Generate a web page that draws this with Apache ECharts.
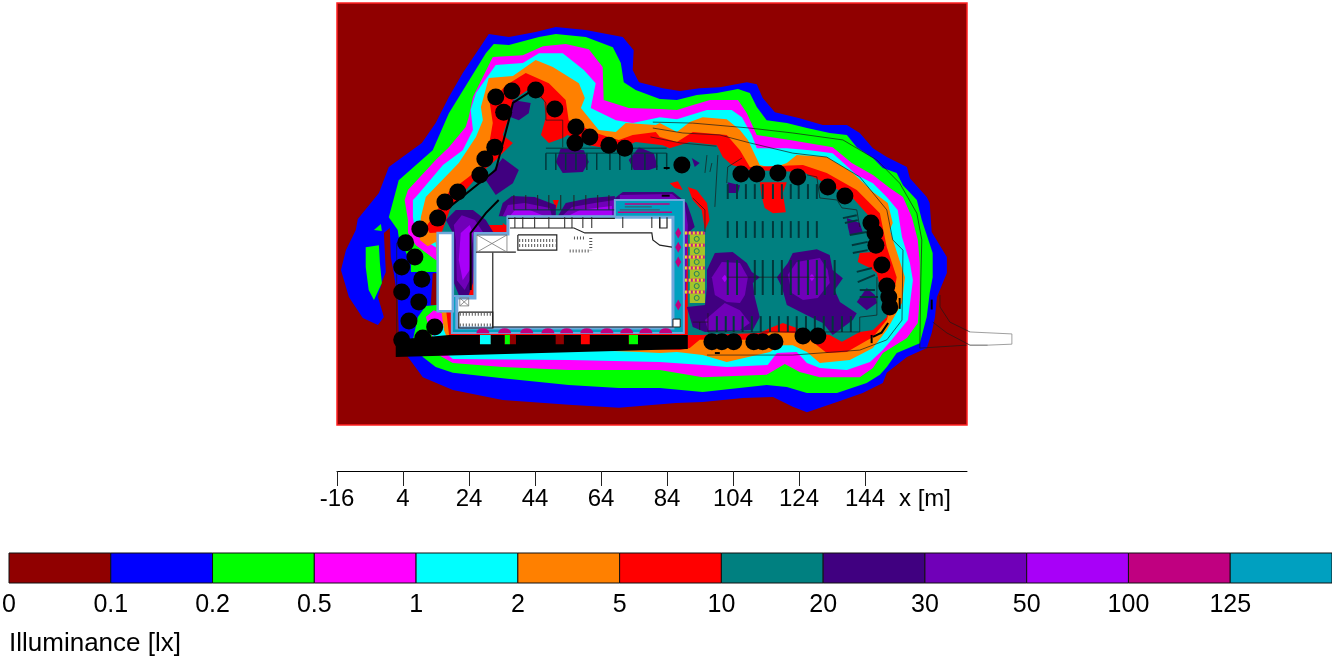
<!DOCTYPE html>
<html><head><meta charset="utf-8"><style>html,body{margin:0;padding:0;background:#fff}#c{width:1332px;height:659px}</style>
<script src="https://cdn.jsdelivr.net/npm/echarts@6/dist/echarts.min.js"></script></head><body><div id="c"></div>
<script>
// Illuminance classes and colours
const classLabels=['0','0.1','0.2','0.5','1','2','5','10','20','30','50','100','125',''];
const classColors=['#900000','#0000ff','#00ff00','#ff00ff','#00ffff','#ff8000','#ff0000','#008080','#400080','#7000b8','#a800f8','#c00080','#00a0c0'];
const xTicks=[-16,4,24,44,64,84,104,124,144];

// Isolux contours, metres
const ring01=[[30,118.5],[36.1,117.6],[44.2,119.1],[50.3,120.6],[59.4,119.7],[70.6,117.6],[73.9,113.6],[73.6,107.6],[75.5,103.9],[82.7,102.1],[87.9,101.2],[93.9,102.1],[100,102.4],[108.2,103.9],[111.2,103.3],[113,99.1],[116.7,94.8],[124.2,93],[131.2,90.9],[138.5,90.9],[142.4,88.5],[146.4,83.9],[150.6,81.2],[156.7,78.2],[157.6,74.8],[162.7,69.1],[163.6,67.3],[164.2,58.5],[168.8,50.9],[168.8,46.1],[165.8,38.8],[165.2,32.7],[164.2,27.9],[162.7,23.3],[156.7,20.6],[150.6,15.8],[149.4,12.7],[143.3,9.7],[135.5,7],[126.4,3.9],[122.1,5.5],[116.1,8.5],[107,8.2],[94.8,7],[86.7,6.7],[69.4,5.2],[54.2,6.1],[34.2,7.6],[19.1,10.6],[10,14.5],[5.5,20.6],[2.7,27.9],[2.4,37.9],[1.2,46.1],[0.3,50.9],[0,59.7],[-1.8,58.2],[-1.2,46.4],[-2.4,43.3],[-3.6,38.8],[-1.8,32.7],[-3.6,30.3],[-8.2,32.4],[-12.4,38.8],[-14.8,47],[-13.3,53],[-10.3,59.1],[-9.7,62.4],[-3.3,70.3],[-0.3,78.2],[9.7,85.5],[13.9,91.5],[17.9,99.4],[22.1,106.7],[28.2,115.8]];
const ring02=[[29.1,112.7],[31.5,115.5],[36.1,115.2],[45.2,117.6],[50.3,118.5],[59.4,117.6],[67.6,114.5],[70,109.7],[70.9,103.9],[74.5,101.5],[81.8,98.8],[87,98.5],[93,100],[99.1,100.6],[105.5,101.8],[109.1,100.6],[111.2,96.4],[114.2,92.4],[120.3,91.5],[126.4,90],[133.3,88.5],[138.5,87.9],[141.5,84.2],[146.4,80.9],[149.4,77.9],[153.6,76.4],[155.5,72.7],[159.7,68.2],[161.2,62.1],[164.5,52.1],[164.5,44.8],[163.6,40],[162.7,32.7],[160.6,24.8],[153.6,21.8],[150.6,17.6],[148.5,15.2],[144.5,12.7],[135.5,9.7],[126.4,9.7],[120.3,11.5],[114.2,12.1],[94.8,10],[81.8,11.2],[69.4,11.2],[54.2,12.1],[34.2,14.2],[19.1,15.8],[13.9,17.6],[10,20.6],[7,25.8],[8.5,32.7],[10.9,36.1],[14.2,36.4],[14.2,46.4],[6.4,46.4],[6.4,49.4],[5.5,50.9],[2.7,57],[2.4,59.1],[-0.3,63],[2.7,74.2],[13,83.3],[17.9,94.5]];
const lobe02a=[[-7.3,53.9],[-3.3,54.5],[-3,49.1],[-2.4,43],[-4.8,37.9],[-6.4,40.9],[-7.3,47.9]];
const lobe02b=[[-4.8,59.1],[-2.7,60.9],[-2.4,58.8]];
const ring05=[[23.9,93.3],[25.2,99.4],[31.2,111.5],[40.3,112.1],[46.4,114.8],[53.3,115.5],[60.3,113.9],[64.5,108.5],[64.8,98.5],[72.4,96.1],[81.8,95.8],[87,95.5],[90.9,96.7],[97,98.5],[105.5,98.5],[108.2,94.5],[111.2,87.9],[121.2,86.4],[134.2,84.2],[140,79.4],[146.4,75.8],[151.5,71.8],[155.5,69.1],[158.2,63],[160,56.1],[160.6,49.1],[160.6,38.8],[160,30.9],[156.7,26.4],[149.4,21.8],[146.4,17.3],[142.4,14.5],[130.3,14.5],[124.2,16.1],[119.7,18.5],[114.2,15.2],[94.8,14.5],[81.8,16.7],[54.2,16.7],[34.2,17.6],[19.1,18.8],[14.8,21.2],[10.9,32.7],[13.3,34.8],[17.6,33.3],[17.6,49.4],[13.9,50],[7.9,54.5],[5.5,58.2],[5.5,62.1],[4.5,68.2],[5.5,71.2],[13.9,80.3],[17.9,84.2],[23,90.3]];
const ring1=[[24.5,95.5],[26.1,100.6],[32.1,109.1],[40.3,109.7],[45.2,112.7],[52.4,112.7],[58.8,107.6],[62.4,103.6],[60.9,96.1],[68.5,92.4],[73.6,91.5],[81.8,93.3],[87,92.7],[90.9,93.9],[96.1,95.5],[103.6,95.5],[106.7,93.3],[109.7,87.9],[111.2,83.9],[120.3,83.9],[127.3,83.3],[134.2,82.4],[141.5,75.8],[146.4,73.3],[150.6,69.1],[153.9,65.2],[155.2,57],[157.6,49.1],[158.5,43.9],[157,31.8],[152.1,25.8],[149.4,22.7],[145.5,19.1],[138.5,16.7],[130.3,17.3],[126.4,18.8],[123.3,22.1],[117.3,21.8],[114.5,18.2],[102.1,17.6],[94.8,18.2],[81.8,19.1],[54.2,19.7],[19.1,20],[13.1,24.8],[13,28.8],[16.1,30.3],[17.6,37.9],[17.6,53],[13.9,53.9],[7.9,57.6],[7,63],[7,68.2],[7.9,69.1],[16.1,78.8],[22.1,83.3],[25.2,89.4]];
const ring2=[[9.4,63],[10.9,69.1],[20.9,79.4],[26.1,87.3],[28.2,92.4],[27.6,96.4],[30,105.2],[37.3,105.8],[44.2,110.6],[49.4,108.5],[57.3,103.6],[59.1,99.1],[57.9,96.1],[63.3,89.4],[68.5,88.8],[71.5,91.5],[80.6,90.9],[81.8,91.5],[87,88.8],[90.9,91.8],[94.8,93.3],[102.1,92.7],[106.1,89.4],[108.5,86.4],[112.1,78.8],[116.1,77.9],[120.3,79.4],[123.3,81.8],[132.4,81.2],[140.3,76.4],[146.4,70.6],[150.9,67.3],[152.4,61.2],[151.5,59.1],[156.1,44.8],[155.2,37],[150.6,28.8],[146.4,23.3],[139.4,19.7],[130.3,18.8],[126.4,22.1],[122.1,24.2],[118.2,24.2],[115.2,22.1],[102.1,19.1],[94.8,21.2],[87,22.1],[81.8,21.8],[75.8,22.1],[18.2,24.2],[16.4,28.8],[15.2,37.9],[13.9,55.5],[11.5,54.2],[9.1,56.1]];
const ring5=[[13,63],[17.9,70.6],[23.9,75.2],[29.1,79.4],[31.2,91.5],[30.3,97.6],[35.2,103],[41.2,106.7],[48.2,103.6],[53.3,98.5],[54.2,92.4],[62.4,88.5],[69.4,86.4],[73.6,87.9],[80.6,88.8],[81.8,87.3],[87,85.8],[91.8,88.8],[102.1,87.9],[106.1,83.3],[109.1,78.2],[125.2,78.8],[132.4,76.4],[141.5,71.2],[148.5,64.2],[150.6,53.9],[153.6,44.8],[152.4,37.9],[150.6,31.8],[146.4,26.7],[138.5,22.1],[132.4,21.8],[127.3,25.8],[122.7,27.9],[115.2,28.2],[112.1,25.8],[93.9,25.8],[90.9,23.3],[87.9,22.7],[18.2,25.2],[16.7,37.9],[16.7,58.5],[12.1,58.2],[10.9,60]];
const ring10=[[18.5,66.1],[27,75.8],[32.1,80.3],[37.3,85.5],[34.2,87.9],[36.1,93.3],[37.3,98.5],[41.8,101.5],[46.7,98.5],[47.3,93.3],[45.8,87.9],[48.2,85.5],[52.4,87],[53.9,87.9],[60.6,84.8],[68.5,83.3],[74.5,85.8],[82.7,84.8],[84.8,83.9],[90.9,85.8],[99.1,84.8],[100.9,81.2],[103.6,78.8],[109.1,77.3],[125.2,76.7],[130.3,74.2],[140,69.1],[145.5,63],[147,56.1],[146.4,52.4],[142.4,52.1],[141.8,49.4],[145.5,47.6],[147.6,46.1],[148.5,41.8],[150.9,38.8],[150.6,32.7],[146.4,28.8],[142.4,28.2],[137,25.2],[133.3,27.3],[127.3,28.2],[123.3,29.4],[119.1,30.9],[115.2,29.4],[112.1,27.9],[93.9,27.3],[90.3,27.3],[90.3,60.6],[27.3,60.6],[21.2,37.9],[15.8,37.9],[15.8,58.5]];
// Areas above 5 lx inside the 10 lx zone
const hot5=[
[[112.1,73.6],[120.3,73.6],[119.1,70.3],[120,64.5],[116.1,64.2],[113.6,65.8],[112.7,69.1]],
[[84.8,73.3],[87.3,73.9],[88.8,71.2],[86.4,71.8]],
[[90.3,72.1],[93,71.2],[96.1,67.3],[96.9,62.1],[95.5,59.1],[94.5,65.2],[91.8,68.2]],
[[49.4,68.2],[51.2,68.2],[50.3,65.2]],
[[34.2,61.2],[35.8,60],[35.8,58],[34.5,58.5]]];
// 20 lx patches
const patch20=[
[[37.3,98.5],[42.7,97.6],[42.1,94.5],[39.1,92.4],[36.7,93.3]],
[[34.2,80.9],[39.1,77.3],[37.3,73.3],[32.1,69.7],[29.1,74.2],[32.1,78.2]],
[[51.8,83.9],[58.8,83.3],[60.3,79.7],[58.5,76.7],[52.4,76.4],[50.3,79.7]],
[[75.5,84.2],[80,82.4],[81.2,78.2],[78.5,77.3],[73.9,77.3],[72.4,80.3]],
[[17,62.1],[20,65.2],[25.2,65.2],[29.1,62.1],[31.5,58.2],[26.1,58.2],[25.2,43],[23.9,39.4],[20.9,39.4],[19.1,43.9],[19.1,58.2]],
[[33,63.3],[34.2,67.3],[37,69.4],[43.9,69.1],[50.3,66.7],[50.3,63.3]],
[[50.9,63.3],[53.3,67.3],[60.6,68.8],[68.2,69.4],[68.2,63.3]],
[[68.2,68.8],[70.6,70.6],[85.8,70.6],[90,67.3],[91.5,63],[92.4,60],[90.3,58.2],[89.4,50],[89.4,34.8],[86.7,34.8],[86.7,66.7],[69.7,66.7]],
[[96.1,47],[98.5,52.1],[103.9,52.4],[108.2,49.1],[109.7,46.4],[112.1,44.8],[110,43],[110.6,38.8],[112.1,32.7],[110,28.8],[95.5,28.2],[91.8,29.7],[90,35.8],[95.5,36.4],[96.1,41.8]],
[[117.3,44.8],[120.6,49.1],[122.1,52.1],[129.4,53.3],[133.3,51.5],[134.2,47],[137.3,44.5],[134.8,40.9],[136.4,37.3],[141.5,33.9],[140.3,31.8],[134.2,27.3],[131.2,30.9],[126.4,33.3],[120.3,36.4],[118.8,41.8]],
[[144.5,41.5],[147,39.4],[147.6,37],[144.5,34.8],[141.5,37.3]],
[[138.5,62.7],[142.4,61.2],[143.3,58.5],[139.4,57.6],[138.8,60]],
[[102.4,73.6],[106.1,72.7],[105.5,70.3],[102.4,70.3]],
[[91.5,80.9],[93.9,79.4],[92.4,78.2]]];
// 30 lx patches
const patch30=[
[[19.4,60.6],[21.8,63.6],[25.8,62.1],[28.2,58.5],[24.8,58.2],[24.2,43.9],[22.7,40.9],[20.3,43.9],[20,56.1]],
[[34.2,63.3],[35.8,66.7],[40.9,67.3],[48.5,65.8],[49.1,63.3]],
[[52.1,63.3],[55.2,66.1],[62.1,67.3],[68.2,68.2],[68.2,63.3]],
[[69.7,69.7],[85.5,70],[89.4,66.7],[90.3,60.6],[89.7,37.9],[86.7,37.9],[86.7,65.2],[69.7,66.7]],
[[97.6,44.8],[100.6,49.4],[106.1,49.1],[108.5,44.8],[107.6,39.4],[106.1,37],[102.1,37.3],[98.5,39.4]],
[[95.5,31.8],[101.5,37],[106.1,34.8],[109.1,30.9],[106.1,28.8],[96.4,28.8]],
[[120.6,45.5],[123.3,49.4],[130.3,50.6],[132.7,47],[133.3,43],[129.7,38.5],[125.2,37.9],[121.8,40]]];
// 50 lx patches
const patch50=[
[[21.5,58.2],[24.2,60.6],[25.2,58.2],[24.2,47],[22.1,43.9],[20.9,50]],
[[36.4,63.3],[37.9,65.2],[42.4,65.2],[47,63.3]],
[[53.9,63.3],[57.6,65.2],[67.3,66.4],[67.3,63.3]],
[[100.6,44.5],[101.5,45.5],[102.4,44.5],[101.5,43.3]],
[[127,44.8],[127.9,45.8],[128.8,44.8],[127.9,43.6]]];
const deadZone=[[13,46],[14.2,46],[14.2,36.4],[12.4,36.4]];

// Building
const buildingBand=[[68.2,68.2],[89.1,68.2],[89.1,27.9],[18.8,27.9],[18.8,39.1],[25.8,39.1],[25.8,58.2],[35.8,58.2],[35.8,63.3],[68.2,63.3]];
const buildingFloor=[[35.8,63],[85.8,63],[85.8,29.4],[20.3,29.4],[20.3,38.5],[25.8,38.5],[25.8,57.9],[35.8,57.9]];
const sideBuilding=[[14.5,58.2],[19.1,58.2],[19.1,34.5],[14.5,34.5]];
const hatchBlock=[[90.9,58.5],[95.5,58.5],[95.5,37],[90.9,37]];
const hatchRowsY=[58.2,54.5,50.9,47.6,43.9,40.3];
const hatchGlyphsY=[56.4,52.7,49.4,45.8,42.1,38.5];
const arcX=[28.2,34.8,41.5,47.9,53.6,59.7,65.8,71.8,77.6,83.6];
const stripDiamondY=[58.2,53.9,49.4,36.4];
const roomWallX=[37.9,40.3,43.9,48.2,53,55.2,58.5,61.2,70.6,79.4,81.8];
const floorLines=[
[[36.4,59.7],[51,59.7],[55.8,59.7],[59.1,58.2],[79.4,58.2],[79.7,56.1],[81.8,54.5],[85.5,53.9]],
[[26.1,52.4],[38.2,52.4]],[[31.2,52.4],[31.2,29.4]],[[31.2,29.7],[85.8,29.7]],[[35.8,62.6],[68.2,62.6]],
[[38.8,57.6],[50.6,57.6],[50.6,53],[38.8,53],[38.8,57.6]],
[[20.9,34.2],[31.2,34.2],[31.2,29.4],[20.9,29.4],[20.9,34.2]],
[[81.8,63],[81.8,59.7],[84,59.7],[84,63]]];
const xBoxes=[[26.4,57.6,35.5,52.4],[21.2,38.5,23.9,36.1]];
const stairRows=[[[39.2,55.9],[50.2,55.9]],[[39.2,54.4],[50.2,54.4]],[[21.2,33.6],[31,33.6]],[[21.2,30.3],[31,30.3]],[[54.5,52.7],[60.6,52.7]],[[55.8,56.7],[59.4,56.7]],[[60.9,56.7],[60.9,53]]];
const stripLinesRed=[[[69.1,64.5],[85.5,64.5]],[[71.2,67],[84.8,67]]];
const stripLinesDark=[[[71.2,66.1],[79.4,66.1]],[[69.7,65.2],[81.8,65.2]]];
const cornerBox=[[85.8,32.1],[88,32.1],[88,29.7],[85.8,29.7]];

// Barrier wall and the gaps in it
const wall=[[1.8,25.8],[18,27.3],[27.3,27.3],[27.3,24.5],[30.6,24.5],[30.6,27.3],[34.8,27.3],[34.8,24.5],[38.2,24.5],[38.2,27.3],[50.3,27.3],[50.3,24.5],[52.7,24.5],[52.7,27.3],[57.9,27.3],[57.9,24.5],[60.6,24.5],[60.6,27.3],[72.4,27.3],[72.4,24.5],[75.2,24.5],[75.2,27.3],[90.3,27.3],[90.3,23],[1.8,20.6]];
const wallGaps=[[27.3,30.6,4],[34.8,36.4,2],[36.4,38.2,0],[50.3,52.7,0],[57.9,60.6,6],[72.4,75.2,2]];

// Site drawing
const siteThin=[
[[79.7,91.8],[91.8,91.5],[109.1,90],[122.1,88.5],[137.3,86.4],[147.6,80.3],[154.5,73.3],[159.7,64.2],[161.2,56.1],[160.9,43.9],[160.6,23.3],[174.8,24.2]],
[[79.7,90],[88.8,88.5],[100,87.9],[109.1,85.5],[122.1,82.4],[132.4,81.2],[142.4,75.2],[150.6,65.2],[152.4,56.1],[155.5,53],[155.2,31.8],[150.6,25.8],[142.4,22.7],[122.1,21.2],[96.1,21.2]],
[[79,87.3],[88,85.5],[99,84.5]],
[[166.7,39.4],[166.7,35.8],[169.7,31.2],[175.8,28.2]],
[[164.5,31.2],[168.8,27.9],[175.8,24.2],[181.2,24.2]],
[[96.4,33.9],[96.4,28.2],[142.4,28.2],[142.4,32.7],[147.6,33.3],[147.6,44.8]],
[[102.1,44.8],[132.4,44.8]],[[102.1,73.3],[102.4,78.2],[106.7,80.9]],
[[126.4,75.8],[129.4,75.2],[130.3,68.8],[135.5,68.2],[137,65.8],[141.5,65.2],[142.4,60]],
[[99.4,81.8],[98.5,66.1]],[[91.8,68.8],[95.5,65.2],[95.5,58.5]],
[[96.1,81.8],[95.5,76.4]],[[97.6,79.4],[97,76.7]],
[[47.3,97.6],[47.3,92.4],[52.4,92.4],[52.4,84.2]],[[44.2,101.5],[47.3,97.6]],
[[2.1,55.2],[2.1,25.8]],[[91.8,31.2],[96.4,31.2]],[[93.9,31.2],[93.9,28.8]]];
const siteHeavy=[
[[44.2,102.1],[37.3,97.6],[36.1,92.4],[32.1,77.3],[17,65.2]],
[[24.5,40.9],[24.5,58.2],[29.1,64.2],[33,68.2]],
[[146.4,26.7],[149,28],[151,30.9]],[[146,27.3],[146,24.8]],
[[164.2,38],[164.2,35]],[[154.5,38.5],[154.5,35.2]],[[98.5,21.8],[100,21.8]],
[[83,77.9],[84.8,77.9]],[[82.4,69.5],[84.8,69.5]]];
const accessRoad=[[175.8,28.2],[188.5,27.6],[188.5,24.5],[181.2,24.2]];
const stallsX1=[102.4,105.2,107.9,110.6,113,116.1,118.8,121.5,123.9,126.7,129.4];
const stallsX3=[102.4,105.2,110.6,113,116.1,118.8,121.5,123.9,126.7,129.4,131.8,134.8];
const stallsX4=[99.1,101.8,104.2,106.9,109.7,112.4,115.2,117.9,120.6,123.3,126.1,128.8,131.5,134.2,137,139.7];
const stallsX5=[47.3,50.3,53.3,56.4,59.7,62.7,66.7,69.7,73.3,77.3,80.9,83.9];
const stallsX6=[37.6,41.2,44.8,48.2,51.8,55.8,59.4,63,66.4];
const stallsDiag=[[[137.3,62.7],[141.5,63.6]],[[137.9,61.2],[141.8,62.1]],[[139.4,57.6],[144.5,58.5]],[[140,54.5],[144.8,55.5]],[[140.3,52.1],[144.8,53]],[[141.5,46.4],[146.1,47.6]],[[141.8,43.3],[147,45.5]],[[142.4,40.9],[147,40.9]],[[142.4,38.8],[147.9,38.8]]];
const stallRails=[[[47.3,83.9],[83.9,83.9]],[[47.3,82.4],[83.9,82.4]],[[37.6,65.2],[68,65.2]]];

// Luminaire poles
const poles=[[32.1,99.4],[37,101.2],[44.2,101.5],[34.5,94.8],[50,95.8],[56.4,90.3],[60.6,87.3],[56.1,85.5],[66.4,84.8],[71.2,83.9],[31.8,84.2],[28.8,80.6],[27.3,75.8],[20.6,70.6],[16.7,67.6],[14.5,62.7],[9.1,59.4],[4.8,55.2],[7.6,50.9],[3.6,47.9],[9.7,44.2],[3.6,40.3],[8.8,37.3],[5.8,31.5],[13.6,29.7],[3.6,25.8],[10,26.4],[88.5,78.8],[106.4,76.1],[111.2,76.1],[117.6,76.4],[123.6,75.2],[132.7,72.1],[137.9,69.4],[145.8,61.2],[147,58.2],[147.3,54.5],[149.1,48.5],[150.6,42.1],[151.2,38.8],[151.5,35.8],[97.6,25.2],[100.6,25.2],[104.2,25.2],[110.3,25.2],[113,25.2],[116.7,25.2],[125.2,27],[129.7,27]];

const C=classColors, font='"Liberation Sans",Arial,sans-serif';
const under=[], over=[];
const fill=(a,pts,c,s,w)=>a.push({pts,fill:c,stroke:s,lw:w});
const line=(a,pts,s,w,dash)=>a.push({pts,stroke:s,lw:w,dash,open:true});
[ring01,ring02,lobe02a,lobe02b,ring05,ring1,ring2,ring5,ring10].forEach((r,i)=>{
  const lvl={0:1,1:2,2:2,3:2,4:3,5:4,6:5,7:6,8:7}[i]; fill(under,r,C[lvl]);});
fill(under,deadZone,C[0]);
hot5.forEach(p=>fill(under,p,C[6]));
patch20.forEach(p=>fill(under,p,C[8]));
patch30.forEach(p=>fill(under,p,C[9]));
patch50.forEach(p=>fill(under,p,C[10]));
fill(under,buildingBand,C[12],'#6fa8dc',2);
fill(under,buildingFloor,'#ffffff','#6fa8dc',3);
fill(under,sideBuilding,'#ffffff','#6fa8dc',2.5);
fill(under,cornerBox,'#ffffff','#222',1);
stripLinesRed.forEach(l=>line(under,l,C[11],1.5));
stripLinesDark.forEach(l=>line(under,l,'#405060',1));
fill(under,hatchBlock,'#a5c42a');
hatchRowsY.forEach(y=>{line(under,[[89.4,y],[95.5,y]],'#c0208a',3);line(under,[[89.4,y],[95.5,y]],'#e8e020',3,[2,2]);});
floorLines.forEach(l=>line(under,l,'#222',1.2));
xBoxes.forEach(b=>{line(under,[[b[0],b[1]],[b[2],b[1]],[b[2],b[3]],[b[0],b[3]],[b[0],b[1]]],'#777',0.8);line(under,[[b[0],b[1]],[b[2],b[3]]],'#777',0.8);line(under,[[b[2],b[1]],[b[0],b[3]]],'#777',0.8);});
stairRows.forEach(l=>line(under,l,'#555',3,[1,2]));
roomWallX.forEach(x=>line(under,[[x,63],[x,59.7]],'#222',1));
stallsX1.forEach(x=>{line(under,[[x,73],[x,68.5]],'#01383c',2);line(under,[[x,61.8],[x,56.7]],'#01383c',2);});
stallsX3.forEach(x=>line(under,[[x,50],[x,39.4]],'#01383c',2));
stallsX4.forEach(x=>line(under,[[x,33],[x,28.2]],'#01383c',2));
stallsX5.forEach(x=>line(under,[[x,82.4],[x,77.3]],'#01383c',1.5));
stallsX6.forEach(x=>line(under,[[x,69.7],[x,65.2]],'#222',1));
stallsDiag.forEach(l=>line(under,l,'#01383c',2));
stallRails.forEach(l=>line(under,l,'#01383c',1));
siteThin.forEach(l=>line(under,l,'#1a1a1a',0.7));
line(under,accessRoad,'#888',0.8);
siteHeavy.forEach(l=>line(over,l,'#000',2));
wallGaps.forEach(g=>fill(over,[[g[0],27.3],[g[1],27.3],[g[1],24],[g[0],24]],C[g[2]]));
fill(over,wall,'#000');

const drawShapes=list=>(p,api)=>{const s=list[p.dataIndex];const points=s.pts.map(q=>api.coord(q));
  return {type:s.open?'polyline':'polygon',shape:{points},style:{fill:s.open?null:s.fill,stroke:s.stroke||null,lineWidth:s.lw||0,lineDash:s.dash||null}};};
const shapeData=list=>list.map(s=>s.pts[0]);

echarts.init(document.getElementById('c'),null,{renderer:'canvas'}).setOption({
  animation:false,backgroundColor:'#fff',
  title:[
    {text:'x [m]',left:899,top:487,padding:0,textStyle:{fontFamily:font,fontSize:24,fontWeight:'normal',color:'#000'}},
    {text:'Illuminance [lx]',left:9,top:631,padding:0,textStyle:{fontFamily:font,fontSize:26,fontWeight:'normal',color:'#000'}}],
  grid:[
    {left:337,top:3,width:630,height:422,outerBoundsMode:'none',show:true,backgroundColor:C[0],borderColor:'#ff2020',borderWidth:1.5},
    {left:9,top:553,width:1323,height:30,outerBoundsMode:'none'}],
  xAxis:[
    {gridIndex:0,type:'value',min:-16,max:174.9,interval:20,position:'bottom',offset:46,splitLine:{show:false},
     axisLine:{show:true,onZero:false,lineStyle:{color:'#000',width:1}},
     axisTick:{show:true,length:15,lineStyle:{color:'#222'},customValues:xTicks},
     axisLabel:{margin:16,fontFamily:font,fontSize:24,color:'#000',customValues:xTicks,formatter:v=>String(v)}},
    {gridIndex:1,type:'value',min:0,max:13,interval:1,splitLine:{show:false},axisLine:{show:false},axisTick:{show:false},
     axisLabel:{margin:10,fontFamily:font,fontSize:25,color:'#000',hideOverlap:false,showMinLabel:true,showMaxLabel:true,formatter:v=>classLabels[v]}}],
  yAxis:[
    {gridIndex:0,type:'value',min:0,max:127.9,show:false,splitLine:{show:false}},
    {gridIndex:1,type:'value',min:0,max:1,show:false,splitLine:{show:false}}],
  series:[
    {type:'custom',xAxisIndex:0,yAxisIndex:0,clip:false,z:2,encode:{x:0,y:1},data:shapeData(under),renderItem:drawShapes(under),silent:true},
    {type:'scatter',xAxisIndex:0,yAxisIndex:0,z:3,symbol:'path://M0 10 A10 10 0 0 1 20 10 Z',symbolSize:[13,5],itemStyle:{color:C[11],opacity:1},data:arcX.map(x=>[x,28.6]),silent:true},
    {type:'scatter',xAxisIndex:0,yAxisIndex:0,z:3,symbol:'diamond',symbolSize:[6,11],itemStyle:{color:C[11],opacity:1},data:stripDiamondY.map(y=>[87.4,y]),silent:true},
    {type:'scatter',xAxisIndex:0,yAxisIndex:0,z:3,symbol:'circle',symbolSize:5,itemStyle:{color:'transparent',borderColor:'#208060',borderWidth:1,opacity:1},data:hatchGlyphsY.map(y=>[93,y]),silent:true},
    {type:'custom',xAxisIndex:0,yAxisIndex:0,clip:false,z:4,encode:{x:0,y:1},data:shapeData(over),renderItem:drawShapes(over),silent:true},
    {type:'scatter',xAxisIndex:0,yAxisIndex:0,z:5,symbol:'circle',symbolSize:17,itemStyle:{color:'#000',opacity:1},data:poles,silent:true},
    {type:'custom',xAxisIndex:1,yAxisIndex:1,z:2,encode:{x:0,y:1},data:classColors.map((c,i)=>[i,0]),silent:true,clip:false,
     renderItem:(p,api)=>{const i=p.dataIndex,a=api.coord([i,1]),b=api.coord([i+1,0]);
       return {type:'rect',shape:{x:a[0],y:a[1],width:b[0]-a[0],height:b[1]-a[1]},style:{fill:classColors[i],stroke:'#111',lineWidth:1}};}}
  ]
});
</script></body></html>
